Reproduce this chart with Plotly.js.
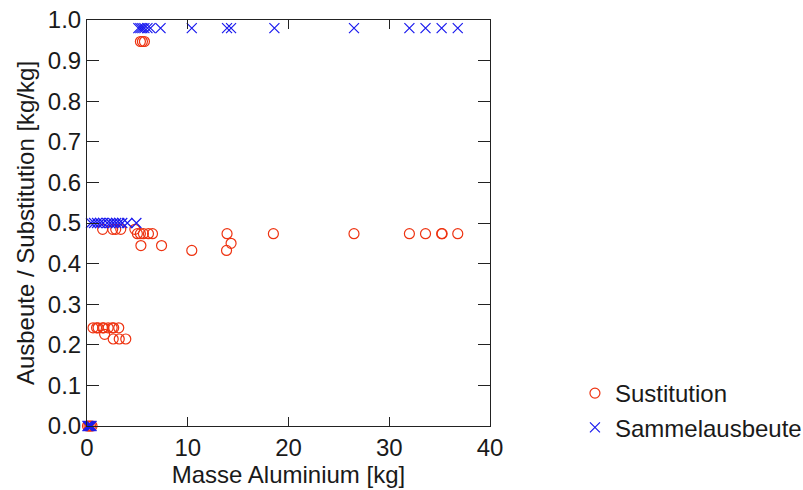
<!DOCTYPE html>
<html>
<head>
<meta charset="utf-8">
<script src="https://cdn.plot.ly/plotly-3.0.1.min.js"></script>
<style>html,body{margin:0;padding:0;background:#fff;}#chart{width:803px;height:490px;}</style>
</head>
<body>
<div id="chart"></div>
<script>
// Sustitution (red open circles)
var subX = [0.05, 0.2, 0.35, 0.5,
            0.6, 0.95, 1.1, 1.55, 1.65, 2.1, 2.5, 2.65, 3.15,
            1.75,
            2.6, 3.2, 3.85,
            1.55, 2.55, 2.85, 3.35, 4.75,
            5.0, 5.3, 5.6, 6.1, 6.5, 13.9, 18.5, 26.5, 32.0, 33.6, 35.2, 35.25, 36.8,
            5.35, 7.4,
            10.4, 13.85,
            14.3,
            5.3, 5.5, 5.7];
var subY = [0, 0, 0, 0,
            0.2419, 0.2419, 0.2419, 0.2419, 0.2419, 0.2419, 0.2419, 0.2419, 0.2419,
            0.2258,
            0.2143, 0.2143, 0.2143,
            0.4844, 0.4844, 0.4844, 0.4844, 0.4844,
            0.4737, 0.4737, 0.4737, 0.4737, 0.4737, 0.4737, 0.4737, 0.4737, 0.4737, 0.4737, 0.4737, 0.4737, 0.4737,
            0.4444, 0.4444,
            0.4324, 0.4324,
            0.45,
            0.947, 0.947, 0.947];

// Sammelausbeute (blue crosses)
var samX = [0.05, 0.15, 0.25, 0.35, 0.45,
            0.4, 0.7, 1.0, 1.3, 1.6, 2.0, 2.3, 2.6, 2.9, 3.2, 3.5, 4.0, 4.9,
            5.1, 5.3, 5.5, 5.7, 6.0, 6.3, 7.3, 10.4, 13.9, 14.3, 18.6, 26.5, 32.0, 33.6, 35.2, 36.8];
var samY = [0, 0, 0, 0, 0,
            0.5, 0.5, 0.5, 0.5, 0.5, 0.5, 0.5, 0.5, 0.5, 0.5, 0.5, 0.5, 0.5,
            0.98, 0.98, 0.98, 0.98, 0.98, 0.98, 0.98, 0.98, 0.98, 0.98, 0.98, 0.98, 0.98, 0.98, 0.98, 0.98];

var seriesNames = ['Sustitution', 'Sammelausbeute'];
var xTicks = [0, 10, 20, 30, 40];
var yTicks = [0, 0.1, 0.2, 0.3, 0.4, 0.5, 0.6, 0.7, 0.8, 0.9, 1.0];

var font = {family: "'Liberation Sans', Arial, sans-serif", size: 24, color: '#1a1a1a'};

var traces = [
  {x: subX, y: subY, name: seriesNames[0], type: 'scatter', mode: 'markers', cliponaxis: false,
   marker: {symbol: 'circle-open', size: 10, color: '#ee3311', line: {width: 1.2, color: '#ee3311'}}},
  {x: samX, y: samY, name: seriesNames[1], type: 'scatter', mode: 'markers', cliponaxis: false,
   marker: {symbol: 'x-thin-open', size: 10, color: '#1a1aee', line: {width: 1.2, color: '#1a1aee'}}}
];

var layout = {
  width: 803, height: 490,
  margin: {l: 87, r: 313, t: 20, b: 64, autoexpand: false},
  paper_bgcolor: '#fff', plot_bgcolor: '#fff',
  font: font,
  showlegend: true,
  legend: {xref: 'container', yref: 'container', x: 0.716, xanchor: 'left', y: 0.0816, yanchor: 'bottom',
           font: font, bgcolor: 'rgba(0,0,0,0)', itemwidth: 30, tracegroupgap: 0},
  xaxis: {range: [0, 40], tickvals: xTicks, ticktext: xTicks.map(String),
          showgrid: false, zeroline: false, showline: true, linecolor: '#222', linewidth: 1,
          mirror: 'ticks', ticks: 'inside', ticklen: 9, tickcolor: '#222', tickwidth: 1,
          tickfont: font, title: {text: 'Masse Aluminium [kg]', font: font, standoff: 4}},
  yaxis: {range: [0, 1.0], tickvals: yTicks, ticktext: yTicks.map(function(v){return v.toFixed(1);}),
          showgrid: false, zeroline: false, showline: true, linecolor: '#222', linewidth: 1,
          mirror: 'ticks', ticks: 'inside', ticklen: 12, tickcolor: '#222', tickwidth: 1,
          tickfont: font, title: {text: 'Ausbeute / Substitution [kg/kg]', font: font, standoff: 6}}
};

Plotly.newPlot('chart', traces, layout, {displayModeBar: false, staticPlot: true});
</script>
</body>
</html>
